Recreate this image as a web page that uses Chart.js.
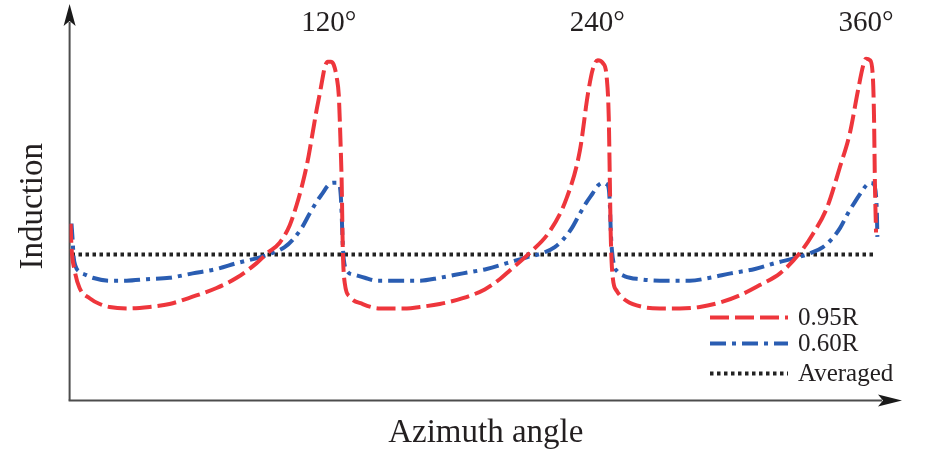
<!DOCTYPE html>
<html>
<head>
<meta charset="utf-8">
<script src="https://cdn.jsdelivr.net/npm/chart.js@4.4.1/dist/chart.umd.min.js"></script>
<style>
    html, body { margin: 0; padding: 0; background: #fff; }
    #wrap { width: 931px; height: 458px; }
</style>
</head>
<body>
<div id="wrap"><canvas id="inductionChart"></canvas></div>
<script>
// azimuth angle (deg) labels printed above the peaks
const angleTicks = [120, 240, 360];

// 0.95R blade station
const r95Angle = [4.7, 5.1, 6.5, 8.7, 13.2, 17.7, 22.1, 31.1, 40.0, 48.9, 59.2, 69.9, 78.9, 87.8, 92.7, 98.1,
    102.6, 105.7, 108.4, 110.6, 112.8, 114.6, 116.0, 117.3, 118.2, 119.6, 120.9, 122.2, 123.6, 124.5, 124.9,
    125.4, 125.8, 126.3, 127.2, 129.4, 135.2, 142.8, 154.9, 160.7, 169.6, 179.9, 189.7, 196.4, 200.9, 209.8,
    218.8, 226.4, 232.2, 235.8, 238.0, 240.2, 242.5, 244.2, 245.1, 245.6, 246.0, 246.9, 248.7, 253.2, 260.3,
    267.9, 276.9, 285.8, 294.7, 303.7, 312.6, 321.6, 330.5, 336.3, 342.6, 348.4, 352.8, 356.4, 358.7, 360.0,
    361.8, 363.1, 363.6, 364.0, 364.5];
const r95Value = [1.21, 1.05, 0.89, 0.77, 0.70, 0.66, 0.64, 0.63, 0.64, 0.66, 0.71, 0.77, 0.84, 0.94, 1.01, 1.08,
    1.20, 1.34, 1.49, 1.64, 1.83, 1.99, 2.10, 2.21, 2.28, 2.32, 2.32, 2.30, 2.21, 2.09, 1.94,
    1.71, 1.49, 1.03, 0.80, 0.71, 0.66, 0.63, 0.63, 0.64, 0.66, 0.70, 0.76, 0.83, 0.89, 1.01,
    1.16, 1.39, 1.71, 2.10, 2.27, 2.33, 2.31, 2.21, 1.94, 1.49, 1.12, 0.84, 0.75, 0.68, 0.64,
    0.63, 0.63, 0.64, 0.67, 0.72, 0.79, 0.87, 1.01, 1.14, 1.32, 1.60, 1.83, 2.12, 2.29, 2.34,
    2.33, 2.21, 1.94, 1.49, 1.15];

// 0.60R blade station
const r60Angle = [5.1, 5.6, 6.0, 6.9, 8.7, 11.4, 14.5, 22.1, 29.7, 38.7, 48.9, 59.2, 69.9, 78.9, 89.2, 95.0,
    100.3, 103.9, 107.9, 111.5, 114.6, 117.3, 119.6, 121.8, 123.6, 124.9, 125.4, 125.8, 126.3, 126.7, 128.0,
    131.6, 136.1, 141.5, 151.8, 160.7, 169.6, 179.9, 190.6, 199.6, 208.5, 215.7, 221.0, 224.6, 228.6, 232.2,
    235.3, 238.0, 240.2, 242.5, 244.2, 245.1, 245.6, 246.0, 246.5, 247.4, 249.2, 252.3, 259.0, 267.9, 281.3,
    290.3, 299.6, 310.4, 319.3, 329.6, 335.4, 340.8, 344.4, 348.4, 351.9, 355.1, 357.7, 360.0, 361.8, 363.6,
    364.5, 364.9, 365.1];
const r60Value = [1.21, 1.10, 0.99, 0.92, 0.88, 0.86, 0.84, 0.82, 0.82, 0.83, 0.84, 0.87, 0.90, 0.94, 0.98, 1.01,
    1.05, 1.10, 1.18, 1.28, 1.36, 1.42, 1.47, 1.49, 1.49, 1.47, 1.40, 1.27, 1.06, 0.97, 0.89,
    0.86, 0.84, 0.82, 0.82, 0.82, 0.84, 0.87, 0.90, 0.94, 0.98, 1.01, 1.05, 1.10, 1.18, 1.28,
    1.36, 1.42, 1.47, 1.49, 1.48, 1.45, 1.34, 1.16, 1.03, 0.93, 0.88, 0.85, 0.83, 0.82, 0.82,
    0.84, 0.87, 0.90, 0.94, 0.98, 1.01, 1.05, 1.10, 1.18, 1.28, 1.36, 1.42, 1.47, 1.49, 1.48,
    1.40, 1.27, 1.12];

// averaged induction
const avgAngle = [5.1, 363.6];
const avgValue = [1.0, 1.0];

const seriesLabels = ['0.95R', '0.60R', 'Averaged'];

const serif = '"Liberation Serif", "DejaVu Serif", serif';
const inkColor = '#231f20';

const toPoints = (xs, ys) => xs.map((x, i) => ({ x: x, y: ys[i] }));

const azimuthDecor = {
    id: 'azimuthDecor',
    beforeDatasetsDraw(chart) {
        const { ctx, chartArea: a } = chart;
        ctx.save();
        ctx.strokeStyle = '#4d4d4d';
        ctx.fillStyle = '#1a1a1a';
        ctx.lineWidth = 2;
        ctx.setLineDash([]);
        // y axis with arrow
        ctx.beginPath();
        ctx.moveTo(a.left, a.bottom);
        ctx.lineTo(a.left, a.top + 10);
        ctx.stroke();
        ctx.beginPath();
        ctx.moveTo(a.left, a.top - 8);
        ctx.lineTo(a.left - 6, a.top + 14);
        ctx.lineTo(a.left, a.top + 9);
        ctx.lineTo(a.left + 6, a.top + 14);
        ctx.closePath();
        ctx.fill();
        // x axis with arrow
        ctx.beginPath();
        ctx.moveTo(a.left - 1, a.bottom);
        ctx.lineTo(a.right - 20, a.bottom);
        ctx.stroke();
        ctx.beginPath();
        ctx.moveTo(a.right, a.bottom);
        ctx.lineTo(a.right - 24, a.bottom - 6);
        ctx.lineTo(a.right - 19, a.bottom);
        ctx.lineTo(a.right - 24, a.bottom + 6);
        ctx.closePath();
        ctx.fill();
        ctx.restore();
    },
    afterDraw(chart) {
        const { ctx, chartArea: a, scales } = chart;
        ctx.save();
        // angle labels over the peaks
        ctx.fillStyle = inkColor;
        ctx.font = '29px ' + serif;
        ctx.textAlign = 'center';
        ctx.textBaseline = 'middle';
        angleTicks.forEach(v => {
            ctx.fillText(v + '°', scales.x.getPixelForValue(v), a.top + 11);
        });
        // legend, bottom right
        const rows = [a.bottom - 83, a.bottom - 57, a.bottom - 27];
        chart.data.datasets.forEach((ds, i) => {
            const y = rows[i];
            ctx.strokeStyle = ds.borderColor;
            ctx.lineWidth = ds.borderWidth;
            ctx.setLineDash(ds.borderDash);
            ctx.beginPath();
            ctx.moveTo(a.right - 192, y);
            ctx.lineTo(a.right - 114, y);
            ctx.stroke();
            ctx.setLineDash([]);
            ctx.fillStyle = inkColor;
            ctx.font = '25px ' + serif;
            ctx.textAlign = 'left';
            ctx.fillText(ds.label, a.right - 104, y + 1);
        });
        ctx.restore();
    }
};

const ctx = document.getElementById('inductionChart').getContext('2d');
window.inductionChart = new Chart(ctx, {
    type: 'line',
    data: {
        datasets: [
            {
                label: seriesLabels[0],
                data: toPoints(r95Angle, r95Value),
                borderColor: '#ee363c',
                borderWidth: 4,
                borderDash: [19, 6]
            },
            {
                label: seriesLabels[1],
                data: toPoints(r60Angle, r60Value),
                borderColor: '#2a5db2',
                borderWidth: 4,
                borderDash: [16, 6, 4, 6]
            },
            {
                label: seriesLabels[2],
                data: toPoints(avgAngle, avgValue),
                borderColor: '#222222',
                borderWidth: 4,
                borderDash: [3.5, 3.5]
            }
        ]
    },
    options: {
        responsive: true,
        maintainAspectRatio: false,
        animation: false,
        layout: { padding: { top: 12, right: 29, bottom: 0, left: 0 } },
        elements: {
            point: { radius: 0 },
            line: { cubicInterpolationMode: 'monotone', fill: false }
        },
        plugins: {
            legend: { display: false },
            tooltip: { enabled: false }
        },
        scales: {
            x: {
                type: 'linear',
                min: 4.25,
                max: 376.1,
                grid: { display: false, drawTicks: false },
                border: { display: false },
                ticks: { display: false },
                title: {
                    display: true,
                    text: 'Azimuth angle',
                    color: inkColor,
                    font: { family: serif, size: 33 },
                    padding: { top: 13, bottom: 5 }
                }
            },
            y: {
                type: 'linear',
                min: 0,
                max: 2.66,
                grid: { display: false, drawTicks: false },
                border: { display: false },
                ticks: { display: false },
                title: {
                    display: true,
                    text: 'Induction',
                    color: inkColor,
                    font: { family: serif, size: 33 },
                    padding: { top: 14, bottom: 16 }
                }
            }
        }
    },
    plugins: [azimuthDecor]
});
</script>
</body>
</html>
